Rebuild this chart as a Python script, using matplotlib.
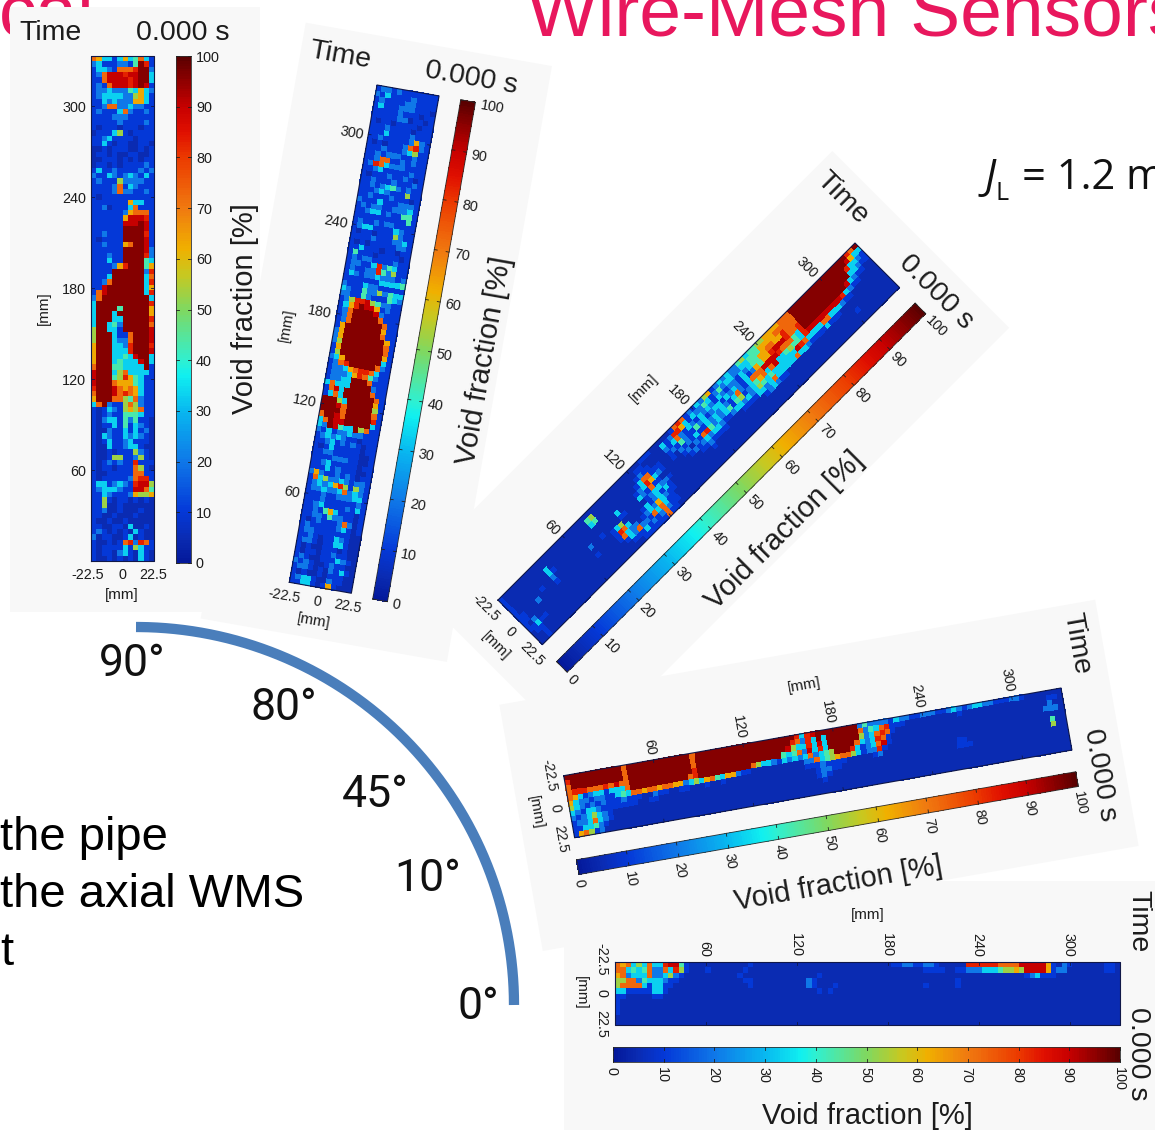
import numpy as np
import matplotlib
matplotlib.use("Agg")
import matplotlib.pyplot as plt
from matplotlib.colors import LinearSegmentedColormap
from matplotlib.transforms import Affine2D

# ---------- data (void fraction class per cell: 0..9 = tens of percent, X = about 100) ----------
LEVEL_VALUES = {'0': 5, '1': 10, '2': 20, '3': 33, '4': 43, '5': 53, '6': 63, '7': 73, '8': 83, '9': 90, 'X': 96}
TIME_TICKS = [60, 120, 180, 240, 300]
LATERAL_TICKS = [-22.5, 0, 22.5]
CBAR_TICKS = [0, 10, 20, 30, 40, 50, 60, 70, 80, 90, 100]
ANGLE_LABELS = ["90°", "80°", "45°", "10°", "0°"]

# inclination 90 deg: rows from latest time down to 0, columns across the pipe
void_90 = """763313634731 231112214X81 133217778XX2 127999899XX3 117999989XX3 121799989X91 122322243632 123333225631
113232226631 112772232211 121113721121 111122211111 111112111121 101110111011 011135101111 112311110111
113101100110 001011100101 011010011001 001110101011 011010111121 131121111212 211321232131 121115222211
111127132111 111127221121 101111111111 111111163311 112011137111 111111267771 111111699981 111111999X91
111111XXXX91 112111XXXX81 101111XXXX91 11211167XX91 111111XXXX92 111211XXXX82 111311XXXX43 1111268XXX46
1111XXXXXX28 1113XXXXXX37 1127XXXXXX38 119XXXXXXX36 179XXXXXXX38 27XXXXXXXXX3 3XXXXXXXXXX8 3XXXX4XXXXX6
3XXX3XXXXXX6 3XXX33XXXXX8 3XX342XXXXX7 5XX331XXXXX9 5XXX3117XXX9 5XXX3227XXX9 6XXX3328XXX8 6XXX3338XXX9
6XXX33439XX3 6XXX343339X3 7XXX443333X1 9XXX35733331 9XXX45864311 9XXX76664311 8XXX97676311 7XXX97876311
6XXX77547211 37X211575211 101321565711 101211444311 102331424110 101131413210 100211313120 103211323210
101311231110 100311233100 100101115210 100155112510 101212118111 101101117510 100111117711 101111127881
133123218995 123332119974 113211126556 115101101010 115001000000 112001000100 110010001000 100100100000
110011030010 121010103100 201100130100 100101782871 101111315311 101102310310 100101010310""".split()

# inclination 80 deg: same layout
void_80 = """122121111111 213111121111 121111221111 131112221110 111112111011 111112201101 101101111011 111211110111
111311112111 112111112621 101011127821 111211123511 112122211211 112771121211 128732221111 112311111211
101112112101 112111211121 112123421211 111232111511 112111211101 211131112221 121221122231 112331211441
111111111141 121121221111 123311113211 101101115211 111121112231 101011111221 113111011011 141110111101
121221111211 122113824311 121122842511 132122322212 111111133334 211132211111 321142252433 221142111432
125889542211 1368X9961211 127XXXX92111 127XXXXX7111 127XXXXXX711 16XXXXXXX611 26XXXXXXX711 26XXXXXXXX61
25XXXXXXXX71 16XXXXXXXX71 15XXXXXXXX61 236XXXXXXX31 1278XXXXX721 122367887311 122236874211 12233XXX7111
37333XXXX211 1793XXXXX711 1373XXXXXX71 XXX53XXXXX61 XXX97XXXXX51 XXXX7XXXXX71 7XX97XXXXX81 37X99XXXXX31
32X9433X5711 213122322111 123232110111 112312121011 101311111011 112211111001 111122211001 112311111011
111312111001 262112121011 173522321221 123236851521 122322372321 111211222331 111211111121 112311112131
112146311101 112214221101 101211127201 121111123101 122111111100 112101132100 122101133100 101001110100
101101121100 121001113210 212100121100 122101021310 101001011100 123310021100 113310161000""".split()

# inclination 45 deg: one track per lateral position, time running from 0 upwards
void_45 = [
 "1000000000 0000000000 0000000000 0000000111 0000017871 2132561232 3224534455 6666777XXX XXXXXXXXXX XX87X",
 "1000000000 0000000000 0045000000 0000011000 0031288631 3224312423 3223344466 6677777XXX XXXXXXXXXX X9633",
 "1000000000 3000000000 0034000000 0000121100 0021372132 1323213212 2132344667 7668777XXX XXXXXXXXXX 83321",
 "1000000000 3100000000 0000000000 0001377111 0012142114 2312331323 2131264668 9998778XXX XXXXXXXXXX 33211",
 "1000000100 2000000000 0000000300 0012386321 0010212131 1323232137 2137779999 8777438XXX XXXXXXXX93 21100",
 "1100020000 1000000002 0010000110 0032171100 0000120217 8423234145 1234673793 3454438999 9999998321 10000",
 "1100000000 0000000000 0000135000 0001233221 0000012123 2332112332 3235434333 3339873333 7733321100 00000",
 "1020000000 0000000001 0000187300 0131231310 0000000112 1111000011 1133237333 3373321111 3111000000 00000",
 "1131100000 0000000000 0000173220 1232632110 0000000001 0000000000 0001232110 0000000000 0000000000 00000",
 "0110000000 0000000000 0000013272 2173731100 0000000000 0000000000 0000000000 0000000000 0000001000 00000",
 "0010000000 0000000000 0000001113 1212721100 0000000000 0000000000 0000000000 0000000000 0000000000 00000",
 "0010000000 0000000000 0000000011 1111711000 0000000000 0000000000 0000000000 0000000000 0000000000 00000",
]

# inclination 10 deg
void_10 = [
 "XXXXXXXXXX X7XXXXXXXX XXXX7XXXXX XXXXXXXXXX XXXX8389XX XXXXXX2422 2213221122 2112321233 2211122100 00000",
 "8XXXXXXXXX X7XXXXXXXX XXXX7XXXXX XXXXXXXXXX XXX87283X3 XXXXXX7243 7811100000 0000010000 0000000000 00110",
 "7XXXXXXXXX X7XXXXXXXX XXXX7XXXXX XXXXXXXXXX XX95338393 XXXXXX5237 8710000000 0000000000 0000000000 00200",
 "7888777879 77XXXXXXXX XXXX8XXXXX XXXXXXXXXX X434729383 XXXXX73238 7100000000 0000000000 0000000000 02220",
 "7631233133 37XXXXXXXX XXX78XXXXX XXXXX75332 1323237234 5XXX831237 9100000000 0000000000 0000000000 00000",
 "6322122113 4377677677 6623536743 6621100000 0000022734 5677531228 1000000000 0000000000 0000000000 00400",
 "5321212111 2111002110 0110001001 0000000000 0000011121 1110000012 0000000000 0000110000 0000000000 00500",
 "3213321111 1110011000 0000000000 0000000000 0000000122 1100000000 0000000000 0000111000 0000000000 00000",
 "2123532100 0000000000 0000000000 0000000000 0000000121 0000000000 0000000000 0000000000 0000000000 00000",
 "1223732100 0000000000 0000000000 0000000000 0000000010 0000000000 0000000000 0000000000 0000000000 00000",
 "1133421000 0000000000 0000000000 0000000000 0000000000 0000000000 0000000000 0000000000 0000000000 00000",
 "1675120000 0000000000 0000000000 0000000000 0000000000 0000000000 0000000000 0000000000 0000000000 00000",
]

# inclination 0 deg
void_00 = [
 "7673537338 9941000000 0000010000 0000000000 0000000000 0011221122 1000008888 8877779999 9610210000 00110",
 "7734347227 3851000100 0000100000 0000000000 0000000000 0000000011 1100112223 3345565999 9612200000 00110",
 "6723337223 5210000000 0001000000 0000000010 0000000000 0000000000 0000000000 0000000123 1110000000 00000",
 "5577243332 1100000000 0000110000 0000002100 0000000000 0000000000 0000100000 0000000000 0000000000 00000",
 "5777731331 1000000000 0000010000 0000002100 0100000000 0000000010 0000100000 0000000000 0000000000 00000",
 "3311111331 0000000000 0000000000 0000000010 1000000000 0000000000 0000000000 0000000000 0000000000 00000",
 "1100000110 0000000000 0000000000 0000000000 0000000000 0000000000 0000000000 0000000000 0000000000 00000",
 "1000000000 0000000000 0000000000 0000000000 0000000000 0000000000 0000000000 0000000000 0000000000 00000",
 "1000000000 0000000000 0000000000 0000000000 0000000000 0000000000 0000000000 0000000000 0000000000 00000",
 "1000000000 0000000000 0000000000 0000000000 0000000000 0000000000 0000000000 0000000000 0000000000 00000",
 "0000000000 0000000000 0000000000 0000000000 0000000000 0000000000 0000000000 0000000000 0000000000 00000",
 "0000000000 0000000000 0000000000 0000000000 0000000000 0000000000 0000000000 0000000000 0000000000 00000",
]


def decode(chars):
    return [LEVEL_VALUES[c] for c in chars.replace(" ", "")]


def grid_from_rows(rows):
    return np.array([decode(r) for r in rows], float)[::-1]


def grid_from_tracks(tracks):
    return np.array([decode(t) for t in tracks], float).T


# ---------- figure in pixel coordinates ----------
plt.rcParams['font.family'] = ['Liberation Sans', 'DejaVu Sans']
fig = plt.figure(figsize=(11.55, 11.30), dpi=100)
ax = fig.add_axes([0, 0, 1, 1])
ax.set_xlim(0, 1155)
ax.set_ylim(1130, 0)
ax.axis('off')

cmap = LinearSegmentedColormap.from_list("slide_jet", [
    (0.00, "#04189a"), (0.05, "#0a2cb4"), (0.10, "#0438d8"), (0.20, "#0f78e8"), (0.30, "#08b8f0"), (0.37, "#10f0f0"),
    (0.40, "#30f0d0"), (0.50, "#80d860"), (0.57, "#c8c820"), (0.62, "#f0b000"), (0.70, "#f07a10"),
    (0.80, "#ec3a00"), (0.85, "#e01000"), (0.90, "#c80000"), (1.00, "#5a0000")])

RED = "#e8175d"
ax.text(527, 35, "Wire-Mesh Sensors", color=RED, fontsize=54, va='baseline', ha='left', zorder=0)
ax.text(95, 35, "cal", color=RED, fontsize=54, va='baseline', ha='right', zorder=0)

TEXT = "#1c1c1c"
CB_TOP, CB_BOT = 56.0, 563.0
edges_lat = np.linspace(-22.5, 22.5, 13)
edges_time = np.linspace(0, 333, 96)


def draw_panel(grid, theta, tl, z, head_y=33):
    panel = Affine2D().translate(-91, -56).rotate_deg(theta).translate(*tl) + ax.transData
    to_px = Affine2D().scale(63 / 45, -505 / 333).translate(122.5, 561) + panel
    ax.fill([10, 260, 260, 10], [7, 7, 612, 612], color="#f8f8f8", lw=0, transform=panel, zorder=z)
    ax.pcolormesh(edges_lat, edges_time, grid, cmap=cmap, vmin=0, vmax=100, transform=to_px,
                  zorder=z + .1, antialiased=False)
    ax.plot([-22.5, 22.5, 22.5, -22.5, -22.5], [0, 0, 333, 333, 0], color="#101848", lw=.8,
            transform=to_px, zorder=z + .2)
    rot = -theta
    kw = dict(transform=panel, color=TEXT, rotation_mode='anchor', zorder=z + .3)
    for t in TIME_TICKS:
        ax.plot([-22.5, -20.5], [t, t], color="#101848", lw=.6, transform=to_px, zorder=z + .2)
        ax.plot([22.5, 20.5], [t, t], color="#101848", lw=.6, transform=to_px, zorder=z + .2)
        y = 561 - t * 505 / 333
        ax.text(86, y + 1.5, str(t), fontsize=10.4, ha='right', va='center', rotation=rot, **kw)
    for v, x in zip(LATERAL_TICKS, [88, 122, 153]):
        ax.text(x, 575, f"{v:g}", fontsize=10.4, ha='center', va='center', rotation=rot, **kw)
    ax.text(122, 595, "[mm]", fontsize=11, ha='center', va='center', rotation=rot, **kw)
    ax.text(44, 308, "[mm]", fontsize=11, ha='center', va='center', rotation=rot + 90, **kw)
    ax.text(50, head_y, "Time", fontsize=20.5, ha='center', va='center', rotation=rot, **kw)
    ax.text(183, head_y, "0.000 s", fontsize=20.5, ha='center', va='center', rotation=rot, **kw)
    ax.text(245, 309, "Void fraction [%]", fontsize=21, ha='center', va='center', rotation=rot + 90, **kw)
    # colour bar
    vals = np.linspace(0, 100, 201)
    ys = np.interp(vals, [0, 100], [CB_BOT, CB_TOP])
    ax.pcolormesh([176, 191], ys, ((vals[:-1] + vals[1:]) / 2)[:, None], cmap=cmap, vmin=0, vmax=100,
                  transform=panel, zorder=z + .1, antialiased=False)
    ax.plot([176, 191, 191, 176, 176], [CB_BOT, CB_BOT, CB_TOP, CB_TOP, CB_BOT], color="#303030", lw=.6,
            transform=panel, zorder=z + .2)
    for v in CBAR_TICKS:
        y = float(np.interp(v, [0, 100], [CB_BOT, CB_TOP]))
        ax.plot([176, 179], [y, y], color="#202020", lw=.6, transform=panel, zorder=z + .2)
        ax.plot([188, 191], [y, y], color="#202020", lw=.6, transform=panel, zorder=z + .2)
        ax.text(196, y + 1.5, str(v), fontsize=10.4, ha='left', va='center', rotation=rot, **kw)


draw_panel(grid_from_tracks(void_00), 90, (1120, 962), 1, head_y=38)
draw_panel(grid_from_tracks(void_45), 45, (855, 243), 2)
draw_panel(grid_from_tracks(void_10), 80, (1061, 688), 3)
draw_panel(grid_from_rows(void_80), 10, (377, 85), 4)
draw_panel(grid_from_rows(void_90), 0, (91, 56), 5)

# quarter arc of inclination angles
th = np.deg2rad(np.linspace(0, 90, 200))
ax.plot(136 + 378 * np.cos(th), 1005 - 378 * np.sin(th), color="#4a7ebb", lw=7.4, solid_capstyle='butt', zorder=6)
for s, x, y in zip(ANGLE_LABELS, [132, 284, 375, 428, 478], [664, 708, 795, 879, 1007]):
    ax.text(x, y, s, fontsize=32, family=['Roboto', 'DejaVu Sans'], color="#111111", ha='center', va='center', zorder=7)

for s, y in zip(["the pipe", "the axial WMS", "t"], [850, 907, 965]):
    ax.text(0, y, s, fontsize=34, color="black", ha='left', va='baseline', zorder=7)

ax.text(985, 189, "J", fontsize=30, style='italic', family=['Open Sans', 'DejaVu Sans'], color="#111111", va='baseline', zorder=7)
ax.text(996, 200, "L", fontsize=18, family=['Open Sans', 'DejaVu Sans'], color="#111111", va='baseline', zorder=7)
ax.text(1022, 189, "= 1.2 m", fontsize=30, family=['Open Sans', 'DejaVu Sans'], color="#111111", va='baseline', zorder=7)

fig.savefig("out.png", dpi=100)
